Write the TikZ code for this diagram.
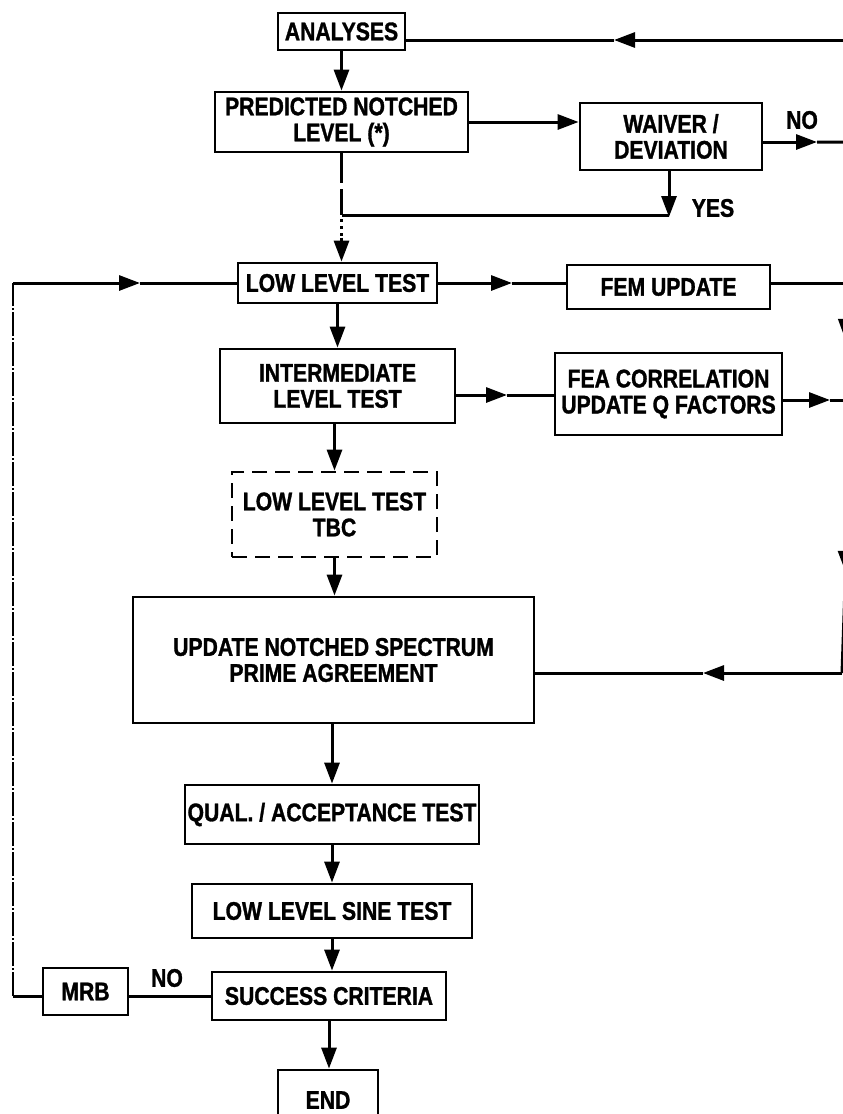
\documentclass[tikz,border=0pt]{standalone}
\usepackage{fontspec}
\setmainfont{Liberation Sans}[FakeStretch=0.83,BoldFeatures={FakeBold=1.2}]
\usetikzlibrary{arrows.meta}
\begin{document}
\begin{tikzpicture}[x=1pt,y=-1pt,
  txt/.style={font=\fontsize{25.5}{26}\selectfont\bfseries},
  box/.style={txt,draw,line width=2.8pt,inner sep=0pt,align=center},
  lbl/.style={txt,inner sep=0pt},
  ln/.style={line width=3pt},
  arr/.style={line width=3pt,-{Triangle[length=21pt,width=15pt]}},
  loopline/.style={line width=2.1pt,dash pattern=on 24pt off 2pt on 2pt off 2pt},
  predline/.style={line width=3pt,dash pattern=on 30pt off 6pt on 26pt off 4pt on 3pt off 4pt on 3pt off 4pt on 3pt off 4pt on 3pt off 4pt on 30pt}]
\useasboundingbox (0,0) rectangle (843,1114);
\clip (0,0) rectangle (843,1114);
\fill[white] (0,0) rectangle (843,1114);
% boxes
\node[box,minimum width=127pt,minimum height=37pt] (ana) at (341.5,31.5) {ANALYSES};
\node[box,minimum width=253pt,minimum height=60pt] (pred) at (341.5,122) {PREDICTED NOTCHED\\LEVEL (*)};
\node[box,minimum width=182pt,minimum height=67pt] (wav) at (671,136.5) {WAIVER /\\DEVIATION};
\node[box,minimum width=199pt,minimum height=40pt] (llt) at (337.5,283) {LOW LEVEL TEST};
\node[box,minimum width=203pt,minimum height=44pt] (fem) at (668.5,287) {FEM UPDATE};
\node[box,minimum width=235pt,minimum height=74pt] (int) at (337.5,386) {INTERMEDIATE\\LEVEL TEST};
\node[box,minimum width=227pt,minimum height=82pt] (fea) at (668.5,394) {FEA CORRELATION\\UPDATE Q FACTORS};
\node[box,dash pattern=on 15pt off 8pt,minimum width=205pt,minimum height=85pt] (tbc) at (334.5,514.5) {LOW LEVEL TEST\\TBC};
\node[box,minimum width=401pt,minimum height=126pt] (upd) at (333.5,660) {UPDATE NOTCHED SPECTRUM\\PRIME AGREEMENT};
\node[box,minimum width=294pt,minimum height=59pt] (qual) at (332,814.5) {QUAL. / ACCEPTANCE TEST};
\node[box,minimum width=280pt,minimum height=54pt] (sine) at (332,911) {LOW LEVEL SINE TEST};
\node[box,minimum width=234pt,minimum height=48pt] (succ) at (329,996) {SUCCESS CRITERIA};
\node[box,minimum width=85pt,minimum height=47pt] (mrb) at (85.5,991.5) {MRB};
\node[box,minimum width=100pt,minimum height=60pt] (end) at (328,1100) {END};
% labels
\node[lbl] (no1) at (802,120) {NO};
\node[lbl] (yes) at (713,208) {YES};
\node[lbl] (no2) at (167,978) {NO};
% coordinates
\coordinate (rA) at (849,40);
\coordinate (tA) at (614,40);
\coordinate (rN) at (848,142);
\coordinate (tN) at (817,142);
\coordinate (yj) at (669,217);
\coordinate (yl) at (341.5,215);
\coordinate (tF) at (512,283);
\coordinate (rF) at (846.3,283);
\coordinate (tR1) at (845.5,340);
\coordinate (tI) at (507,395);
\coordinate (tE) at (830,400);
\coordinate (rE) at (846.5,400);
\coordinate (tR2) at (845.5,572);
\coordinate (rB) at (842,673);
\coordinate (tB) at (703,673);
\coordinate (lb) at (13,996);
\coordinate (lt) at (13,283);
\coordinate (ltip) at (140,283);
% top feedback to analyses
\draw[arr] (rA) -- (tA);
\draw[ln] (tA) -- (tA -| ana.east);
\draw[arr] (ana.south) -- (pred.north);
\draw[arr] (pred.east) -- (pred.east -| wav.west);
\draw[arr] (wav.east |- tN) -- (tN);
\draw[ln] (tN) -- (rN) -- (rA);
\draw[arr] (wav.south -| yj) -- (yj);
\draw[ln] (yj |- yl) -- (yl);
\draw[predline] (pred.south) -- ([yshift=12pt]pred.south |- llt.north);
\draw[arr] ([yshift=24pt]pred.south |- llt.north) -- (pred.south |- llt.north);
% low level test row
\draw[arr] (llt.east) -- (tF);
\draw[ln] (tF) -- (tF -| fem.west);
\draw[ln] (fem.east |- rF) -- (rF);
\draw[arr] (rF) -- (tR1);
\draw[ln] (tR1) -- (rE);
% intermediate row
\draw[arr] (llt.south) -- (int.north);
\draw[arr] (tI -| int.east) -- (tI);
\draw[ln] (tI) -- (tI -| fea.west);
\draw[arr] (fea.east |- tE) -- (tE);
\draw[ln] (tE) -- (rE);
\draw[arr] (rE) -- (tR2);
\draw[ln] (tR2) -- (rB);
\draw[arr] (rB) -- (tB);
\draw[ln] (tB) -- (tB -| upd.east);
% main column
\draw[arr] (tbc.north |- int.south) -- (tbc.north);
\draw[arr] (tbc.south) -- (tbc.south |- upd.north);
\draw[arr] (qual.north |- upd.south) -- (qual.north);
\draw[arr] (qual.south) -- (qual.south |- sine.north);
\draw[arr] (sine.south) -- (sine.south |- succ.north);
\draw[arr] (succ.south) -- (succ.south |- end.north);
% failure loop
\draw[ln] (succ.west) -- (succ.west -| mrb.east);
\draw[ln] (mrb.west |- lb) -- (lb);
\draw[loopline] (lb) -- (lt);
\draw[arr] (lt) -- (ltip);
\draw[ln] (ltip) -- (llt.west);
\end{tikzpicture}
\end{document}
